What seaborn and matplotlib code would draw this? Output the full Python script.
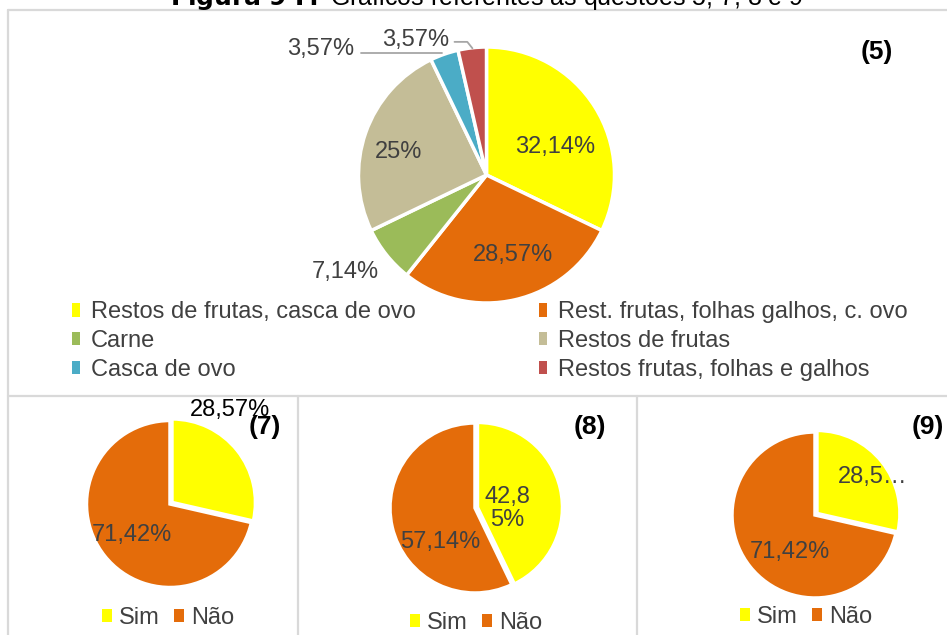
"""Pie charts for questions 5, 7, 8 and 9 (survey of compostable waste)."""

import numpy as np
import matplotlib
matplotlib.use("Agg")
import matplotlib.pyplot as plt
from matplotlib.lines import Line2D
from matplotlib.patches import Patch
import seaborn as sns

# ---- data -----------------------------------------------------------------
Q5_CATEGORIES = [
    "Restos de frutas, casca de ovo",
    "Rest. frutas, folhas galhos, c. ovo",
    "Carne",
    "Restos de frutas",
    "Casca de ovo",
    "Restos frutas, folhas e galhos",
]
Q5_VALUES = [32.14, 28.57, 7.14, 25.0, 3.57, 3.57]
Q5_LABELS = ["32,14%", "28,57%", "7,14%", "25%", "3,57%", "3,57%"]

YES_NO = ["Sim", "Não"]
Q7_VALUES = [28.57, 71.42]
Q7_LABELS = ["28,57%", "71,42%"]
Q8_VALUES = [42.85, 57.14]
Q8_LABELS = ["42,8\n5%", "57,14%"]
Q9_VALUES = [28.57, 71.42]
Q9_LABELS = ["28,5…", "71,42%"]

Q5_COLORS = ["#FFFF00", "#E46C0A", "#9BBB59", "#C4BD97", "#4BACC6", "#C0504D"]
YN_COLORS = ["#FFFF00", "#E46C0A"]

W, H = 947, 635
TXT = "#404040"
GRID = "#D9D9D9"
FS = 17

sns.set_theme(style="white")
plt.rcParams["font.family"] = ["Liberation Sans", "DejaVu Sans"]

fig = plt.figure(figsize=(W / 100, H / 100), dpi=100)


def fx(x):
    return x / W


def fy(y):
    return 1 - y / H


def pie_axes(cx, cy, r, pad=1.1):
    ax = fig.add_axes([fx(cx - r * pad), fy(cy + r * pad),
                       2 * r * pad / W, 2 * r * pad / H])
    return ax, pad


def draw_pie(ax, pad, values, colors, lw=2.2, explode=None):
    ax.pie(values, colors=colors, startangle=90, counterclock=False,
           explode=explode,
           wedgeprops=dict(edgecolor="white", linewidth=lw))
    ax.set_xlim(-pad, pad)
    ax.set_ylim(-pad, pad)
    ax.set_aspect("equal")
    ax.axis("off")


# ---- panel borders --------------------------------------------------------
for (x0, y0, x1, y1) in [(8, 10, 947, 10), (8, 10, 8, 635), (8, 396, 947, 396),
                         (298, 396, 298, 635), (637, 396, 637, 635)]:
    fig.add_artist(Line2D([fx(x0), fx(x1)], [fy(y0), fy(y1)],
                          transform=fig.transFigure, color=GRID, lw=1.6))

# clipped caption above the figure
fig.text(fx(487), fy(5), r"$\bf{Figura\ 9\ I:}$ Gráficos referentes às questões 5, 7, 8 e 9",
         ha="center", va="baseline", fontsize=18, color="black")

# ---- question 5 -----------------------------------------------------------
ax5, pad5 = pie_axes(486.5, 175, 128)
draw_pie(ax5, pad5, Q5_VALUES, Q5_COLORS, lw=2.5)
q5_pos = [(0.535, 0.22), (0.21, -0.625), (-1.105, -0.76), (-0.69, 0.18)]
for lab, (x, y) in zip(Q5_LABELS[:4], q5_pos):
    ax5.text(x, y, lab, ha="center", va="center", fontsize=FS, color=TXT)
# small slices with leader lines
ax5.text(-1.03, 0.935, Q5_LABELS[4], ha="right", va="baseline", fontsize=FS, color=TXT)
ax5.plot([-0.98, -0.35], [0.955, 0.955], color="#A6A6A6", lw=1.3, clip_on=False)
ax5.text(-0.29, 1.01, Q5_LABELS[5], ha="right", va="baseline", fontsize=FS, color=TXT)
ax5.plot([-0.25, -0.15, -0.11], [1.04, 1.04, 0.99], color="#A6A6A6", lw=1.3, clip_on=False)

fig.text(fx(877), fy(52), "(5)", ha="center", va="center", fontsize=19,
         fontweight="bold", color="black")

handles = [Patch(facecolor=c, edgecolor="none") for c in Q5_COLORS]
leg_kw = dict(frameon=False, fontsize=FS, handlelength=0.35, handleheight=0.5,
              handletextpad=0.45, labelspacing=0.28, labelcolor=TXT,
              loc="center left", borderaxespad=0, borderpad=0)
fig.legend(handles[0::2], Q5_CATEGORIES[0::2], bbox_to_anchor=(fx(72), fy(341)), **leg_kw)
fig.legend(handles[1::2], Q5_CATEGORIES[1::2], bbox_to_anchor=(fx(539), fy(341)), **leg_kw)

# ---- questions 7, 8, 9 ----------------------------------------------------
small = [
    ("(7)", Q7_VALUES, Q7_LABELS, (170, 504, 83.5), [(0.72, 1.12), (-0.455, -0.37)],
     (265, 427), (168, 618), ["black", TXT]),
    ("(8)", Q8_VALUES, Q8_LABELS, (475, 508, 85), [(0.38, -0.01), (-0.41, -0.4)],
     (590, 427), (476, 623), [TXT, TXT]),
    ("(9)", Q9_VALUES, Q9_LABELS, (815, 515, 83), [(0.69, 0.46), (-0.30, -0.45)],
     (928, 427), (806, 617), [TXT, TXT]),
]
yn_handles = [Patch(facecolor=c, edgecolor="none") for c in YN_COLORS]
for tag, vals, labs, (cx, cy, r), pos, tag_xy, leg_xy, lab_cols in small:
    ax, pad = pie_axes(cx, cy, r)
    draw_pie(ax, pad, vals, YN_COLORS, lw=2.5, explode=[0.03, 0])
    for lab, (x, y), col in zip(labs, pos, lab_cols):
        ax.text(x, y, lab, ha="center", va="center", fontsize=FS, color=col,
                linespacing=1.05)
    fig.text(fx(tag_xy[0]), fy(tag_xy[1]), tag, ha="center", va="center",
             fontsize=19, fontweight="bold", color="black")
    fig.legend(yn_handles, YES_NO, ncol=2, frameon=False, fontsize=FS,
               handlelength=0.42, handleheight=0.5, handletextpad=0.3,
               columnspacing=0.6, labelcolor=TXT, loc="center",
               bbox_to_anchor=(fx(leg_xy[0]), fy(leg_xy[1])), borderpad=0)

fig.savefig("out.png", dpi=100)
plt.close(fig)
